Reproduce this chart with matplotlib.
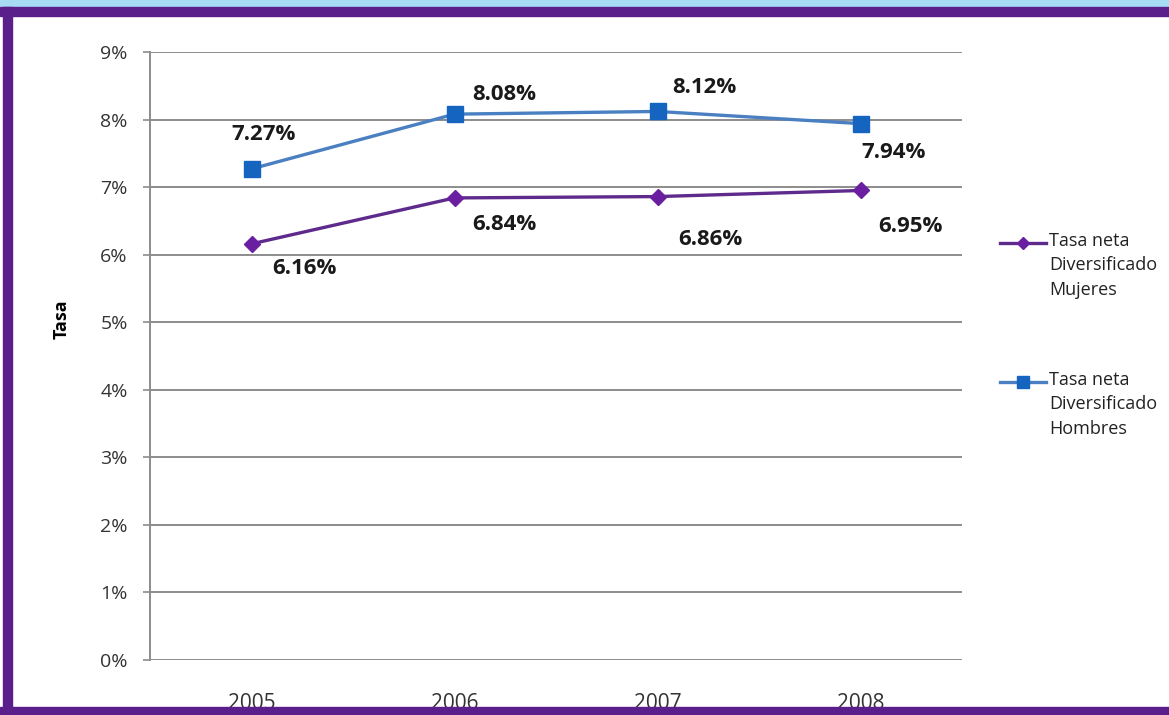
import matplotlib.pyplot as plt
from matplotlib.patches import Rectangle
from matplotlib.lines import Line2D
from matplotlib.ticker import FuncFormatter

plt.rcParams['font.family'] = ['Open Sans', 'DejaVu Sans']

# data
years = ['2005', '2006', '2007', '2008']
mujeres = [6.16, 6.84, 6.86, 6.95]
hombres = [7.27, 8.08, 8.12, 7.94]
label_mujeres = 'Tasa neta\nDiversificado\nMujeres'
label_hombres = 'Tasa neta\nDiversificado\nHombres'

# label offsets (points) for the value annotations
off_m = [(38, -18), (36, -19), (38, -31), (36, -26)]
off_h = [(9, 25), (36, 14), (34, 17), (24, -21)]

c_m_line = '#5e2a8c'
c_m_mark = '#6a1fa0'
c_h_line = '#4a80c2'
c_h_mark = '#1565c0'

fig = plt.figure(figsize=(11.69, 7.15), dpi=100)
ax = fig.add_axes([150 / 1169, 55 / 715, 812 / 1169, 608 / 715])

x = list(range(len(years)))
ax.plot(x, mujeres, color=c_m_line, lw=2.4, marker='D', ms=8,
        mfc=c_m_mark, mec=c_m_mark, zorder=3)
ax.plot(x, hombres, color=c_h_line, lw=2.4, marker='s', ms=12,
        mfc=c_h_mark, mec=c_h_mark, zorder=3)

for xi, v, o in zip(x, mujeres, off_m):
    ax.annotate(f'{v:.2f}%', (xi, v), xytext=o, textcoords='offset points',
                ha='center', va='center', fontsize=16, fontweight='bold',
                color='#1a1a1a')
for xi, v, o in zip(x, hombres, off_h):
    ax.annotate(f'{v:.2f}%', (xi, v), xytext=o, textcoords='offset points',
                ha='center', va='center', fontsize=16, fontweight='bold',
                color='#1a1a1a')

ax.set_xlim(-0.5, 3.5)
ax.set_ylim(0, 9)
ax.set_yticks(range(0, 10))
ax.yaxis.set_major_formatter(FuncFormatter(lambda v, p: f'{int(v)}%'))
ax.set_xticks(x)
ax.set_xticklabels(years)
ax.grid(axis='y', color='#8c8c8c', lw=1.4)
ax.set_axisbelow(True)
for s in ['top', 'right', 'bottom']:
    ax.spines[s].set_visible(False)
ax.spines['left'].set_color('#8c8c8c')
ax.spines['left'].set_linewidth(1.4)
ax.tick_params(axis='y', length=5, width=1.2, color='#8c8c8c', pad=11,
               labelsize=14, labelcolor='#333333')
ax.tick_params(axis='x', length=0, pad=24, labelsize=15, labelcolor='#333333')
ax.set_ylabel('Tasa', fontsize=13, fontweight='bold')
ax.yaxis.set_label_coords(-0.098, 0.56)

# legend drawn in figure pixels
def legend_entry(y_px, lc, mc, mk, ms, text):
    y = 1 - y_px / 715
    fig.add_artist(Line2D([1000 / 1169, 1046 / 1169], [y, y], color=lc, lw=2.4,
                          transform=fig.transFigure))
    fig.add_artist(Line2D([1023 / 1169], [y], marker=mk, ms=ms, mfc=mc, mec=mc,
                          transform=fig.transFigure))
    fig.text(1049 / 1169, y + 11 / 715, text, fontsize=13, va='top', ha='left',
             color='#222222', linespacing=1.45)

legend_entry(243, c_m_line, c_m_mark, 'D', 6, label_mujeres)
legend_entry(382, c_h_line, c_h_mark, 's', 8, label_hombres)

# frame decorations
fig.add_artist(Rectangle((0, 1 - 7 / 715), 1, 7 / 715, transform=fig.transFigure,
                         color='#a8dcf5', zorder=0))
fig.add_artist(Rectangle((0, 1 - 16 / 715), 1, 9 / 715, transform=fig.transFigure,
                         color='#5b1f8c', zorder=5))
fig.add_artist(Rectangle((3 / 1169, 0), 9 / 1169, 1 - 7 / 715, transform=fig.transFigure,
                         color='#5b1f8c', zorder=5))
fig.add_artist(Rectangle((0, 0), 1, 8 / 715, transform=fig.transFigure,
                         color='#5b1f8c', zorder=5))

fig.savefig('out.png', dpi=100)
